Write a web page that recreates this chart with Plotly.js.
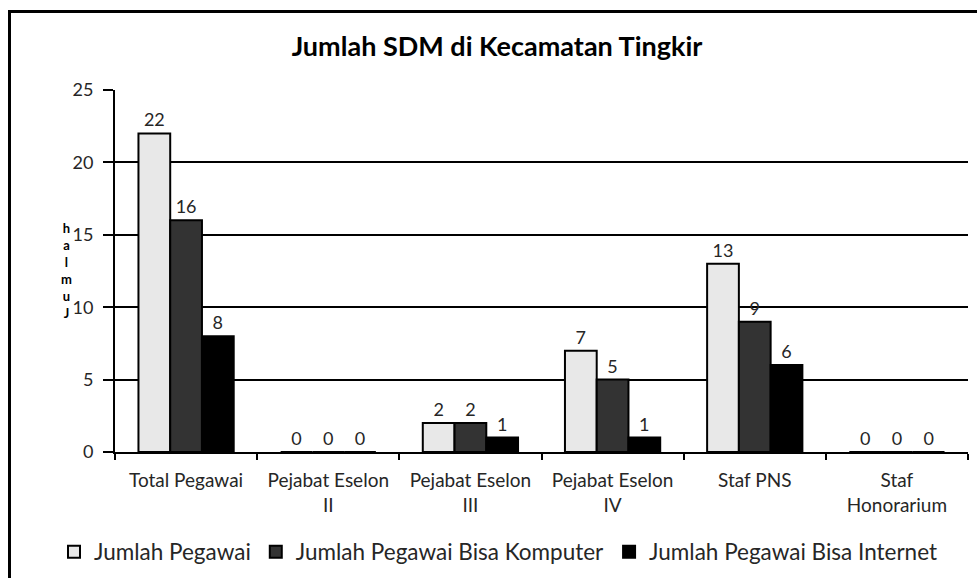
<!DOCTYPE html>
<html>
<head>
<meta charset="utf-8">
<script src="https://cdn.plot.ly/plotly-3.0.1.min.js"></script>
<style>
  html, body { margin: 0; padding: 0; background: #fff; overflow: hidden; }
  #wrap { position: relative; width: 977px; height: 578px; }
  #chart { width: 977px; height: 578px; }
  #frame { position: absolute; left: 8px; top: 10px; width: 1000px; height: 620px;
           border: 3px solid #000; pointer-events: none; }
</style>
</head>
<body>
<div id="wrap">
  <div id="chart"></div>
  <div id="frame"></div>
</div>
<script>
// ---- data ----
const categories = ["Total Pegawai", "Pejabat Eselon<br>II", "Pejabat Eselon<br>III",
                    "Pejabat Eselon<br>IV", "Staf PNS", "Staf<br>Honorarium"];
const seriesNames = ["Jumlah Pegawai", "Jumlah Pegawai Bisa Komputer", "Jumlah Pegawai Bisa Internet"];
const jumlahPegawai   = [22, 0, 2, 7, 13, 0];
const bisaKomputer    = [16, 0, 2, 5, 9, 0];
const bisaInternet    = [8, 0, 1, 1, 6, 0];
const chartTitle = "Jumlah SDM di Kecamatan Tingkir";
const yTitle = "Jumlah";
const yTicks = [0, 5, 10, 15, 20, 25];

// ---- styles ----
const fillColors = ["#e8e8e8", "#333333", "#000000"];
const FONT = "Lato, 'Open Sans', sans-serif";
const seriesValues = [jumlahPegawai, bisaKomputer, bisaInternet];

const traces = seriesValues.map((vals, i) => ({
  type: "bar",
  name: seriesNames[i],
  x: categories,
  y: vals,
  marker: { color: fillColors[i], line: { color: "#000", width: 2 } },
  text: vals.map(String),
  textposition: "outside",
  textfont: { family: FONT, size: 18, color: "#262626" },
  cliponaxis: false,
  hoverinfo: "x+y+name"
}));

const plotTop = 90, plotH = 362, plotL = 115, plotW = 853;
// y-axis title drawn as stacked upright letters (read bottom to top)
const stacked = yTitle.split("").reverse().join("<br>");

const layout = {
  width: 977, height: 578,
  margin: { l: 115, r: 9, t: 90, b: 126, autoexpand: false },
  paper_bgcolor: "#fff", plot_bgcolor: "#fff",
  font: { family: FONT, color: "#262626" },
  title: {
    text: "<b>" + chartTitle + "</b>",
    font: { family: FONT, size: 27, color: "#000" },
    xref: "container", x: 497 / 977, xanchor: "center",
    yref: "container", y: 1 - 47 / 578, yanchor: "middle"
  },
  barmode: "group",
  bargap: 0.33,
  bargroupgap: 0,
  xaxis: {
    type: "category",
    range: [-0.5, 5.5],
    tickson: "boundaries",
    ticks: "outside", ticklen: 6, tickwidth: 2, tickcolor: "#000",
    showline: true, linecolor: "#000", linewidth: 2,
    showgrid: false,
    automargin: false,
    ticklabelstandoff: 10,
    tickfont: { family: FONT, size: 19, color: "#262626" }
  },
  yaxis: {
    range: [0, 25],
    tickvals: yTicks,
    ticks: "outside", ticklen: 10, tickwidth: 2, tickcolor: "#000",
    showline: true, linecolor: "#000", linewidth: 2,
    showgrid: true, gridcolor: "#000", gridwidth: 2,
    zeroline: false,
    automargin: false,
    ticklabelstandoff: 6,
    tickfont: { family: FONT, size: 18, color: "#262626" }
  },
  legend: {
    orientation: "h",
    xref: "paper", x: (54 - plotL) / plotW, xanchor: "left",
    yref: "paper", y: (452 - 552) / plotH, yanchor: "middle",
    font: { family: FONT, size: 22.5, color: "#262626" },
    traceorder: "normal",
    itemwidth: 30
  },
  annotations: [{
    text: "<b>" + stacked + "</b>",
    xref: "paper", yref: "paper",
    x: (66 - plotL) / plotW,
    y: 1 - (270 - plotTop) / plotH,
    xanchor: "center", yanchor: "middle",
    showarrow: false,
    font: { family: FONT, size: 13, color: "#000" }
  }],
  showlegend: true
};

Plotly.newPlot("chart", traces, layout, { displayModeBar: false, staticPlot: true });
</script>
</body>
</html>
